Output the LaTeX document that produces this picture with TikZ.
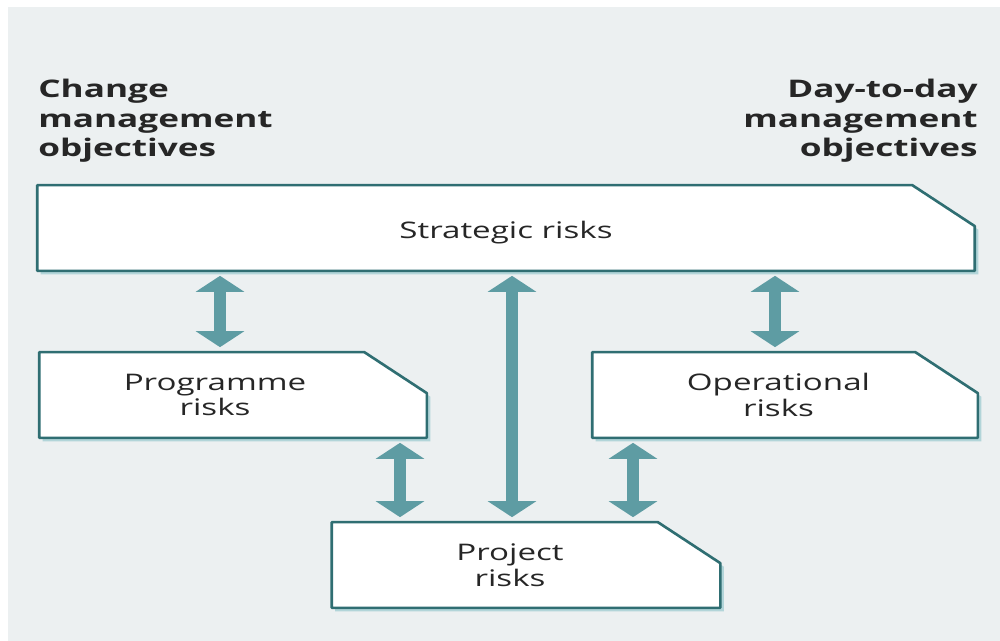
\documentclass[tikz,border=0pt]{standalone}
\usepackage{fontspec}
\setmainfont{Open Sans}[FakeStretch=1.45]
\usetikzlibrary{arrows.meta,shadows,backgrounds}

\definecolor{paper}{HTML}{ECF0F1}
\definecolor{boxline}{HTML}{2F6E72}
\definecolor{shade}{HTML}{B2D5D9}
\definecolor{arrowteal}{HTML}{5E9CA3}

\begin{document}
\begin{tikzpicture}[%
        x=0.02cm, y=-0.02cm,
        risk/.style={rectangle, inner sep=0pt, minimum height=1.7cm},
        outline/.style={draw=boxline, line width=1.5pt, fill=white, line join=round,
            drop shadow={shadow xshift=0.07cm, shadow yshift=-0.07cm, fill=shade, opacity=1}},
        risktext/.style={font=\fontsize{13}{14.5}\selectfont, align=center, text=black!85},
        heading/.style={font=\bfseries\fontsize{13.8}{16.8}\selectfont, inner sep=0pt, text=black!85},
        link/.style={{Triangle[width=0.96cm,length=0.32cm]}-{Triangle[width=0.96cm,length=0.32cm]},
            line width=0.24cm, draw=arrowteal, shorten <=0.1cm, shorten >=0.1cm}
        ]

        \node[heading, anchor=north west, align=left] (change) at (38,79)
            {Change\\management\\objectives};
        \node[heading, anchor=north east, align=right] (daily) at (978,79)
            {Day-to-day\\management\\objectives};

        \node[risk, minimum width=18.74cm,
              label={[risktext, yshift=-0.1cm]center:Strategic risks}] (strategic) at (506,228) {};
        \node[risk, minimum width=7.74cm,
              label={[risktext, xshift=-0.36cm]center:Programme\\risks}] (programme) at (233,395) {};
        \node[risk, minimum width=7.7cm,
              label={[risktext, xshift=-0.13cm]center:Operational\\risks}] (operational) at (785,395) {};
        \node[risk, minimum width=7.76cm,
              label={[risktext, xshift=-0.32cm]center:Project\\risks}] (project) at (526,565) {};

        \begin{scope}[on background layer]
            \fill[white] (0,0) rectangle (1000,641);
            \fill[paper] (8,7) rectangle (1000,641);
            % boxes with the cut top right corner
            \foreach \n in {strategic,programme,operational,project}
                \draw[outline] (\n.south west) -- (\n.north west)
                    -- ([xshift=-1.25cm]\n.north east) -- ([yshift=-0.82cm]\n.north east)
                    -- (\n.south east) -- cycle;
        \end{scope}
        \useasboundingbox (0,0) rectangle (1000,641);

        \coordinate (c1) at (220,0);
        \coordinate (c2) at (512,0);
        \coordinate (c3) at (775,0);
        \coordinate (c4) at (400,0);
        \coordinate (c5) at (633,0);

        \draw[link] (strategic.south -| c1) -- (programme.north -| c1);
        \draw[link] (strategic.south -| c2) -- (project.north -| c2);
        \draw[link] (strategic.south -| c3) -- (operational.north -| c3);
        \draw[link] (programme.south -| c4) -- (project.north -| c4);
        \draw[link] (operational.south -| c5) -- (project.north -| c5);

\end{tikzpicture}
\end{document}
